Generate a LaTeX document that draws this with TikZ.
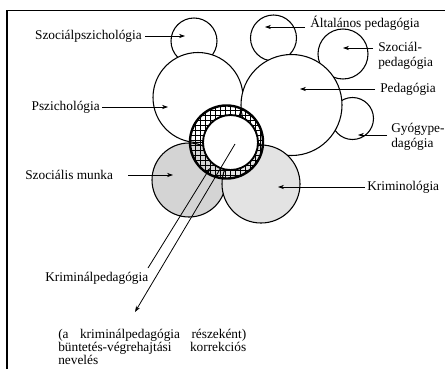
\documentclass[tikz,border=0pt]{standalone}
\usepackage{fontspec}
\setmainfont{Liberation Serif}
\usetikzlibrary{arrows.meta}

\begin{document}
\begin{tikzpicture}[x=0.75pt, y=-0.75pt, font=\fontsize{10}{11.25}\selectfont,
        disc/.style={circle, draw, line width=0.8pt, fill=white, inner sep=0pt,
            minimum size=#1*1.5pt},
        shaded/.style={disc=#1, fill=black!17},
        lightshaded/.style={disc=#1, fill=black!11},
        arr/.style={-{Stealth[length=4.5pt, width=3.2pt]}, line width=0.6pt},
        lbl/.style={inner ysep=0pt, align=left}]
    \useasboundingbox (0,0) rectangle (445,369);
    \draw[line width=1.1pt] (7,369) -- (7,10.5) -- (445,10.5);

    % small circles
    \node[disc=23] (spsy) at (194,41) {};
    \node[disc=23] (altped) at (273.5,38) {};
    \node[disc=25] (szped) at (343,54) {};
    \node[disc=21] (gyogy) at (352.5,118.5) {};

    % large circles
    \node[disc=45] (psy) at (198,97.5) {};
    \node[disc=50.5] (ped) at (291.5,105) {};
    \node[shaded=37] (szm) at (189,180) {};
    \node[lightshaded=39] (krim) at (261,184) {};

    % hatched ring
    \node[circle, inner sep=0pt, minimum size=73*0.75pt] (ring) at (226.5,142) {};
    \begin{scope}
        \clip (ring.center) circle (27.4pt);
        \draw[line width=0.55pt, step=3.75pt] (185,190) grid (270,100);
    \end{scope}
    \draw[line width=1.8pt] (ring.center) circle (27.4pt);
    \node[disc=27.5, line width=1.4pt] (core) at (230.5,142.5) {};

    % labels
    \node[lbl, inner xsep=2.25pt, anchor=east] (lspsy) at (145,36) {Szociálpszichológia};
    \node[lbl, inner xsep=3.75pt, anchor=west] (laltped) at (305,23) {Általános pedagógia};
    \node[lbl, inner xsep=3.75pt, anchor=west] (lszped) at (373,55.5) {Szociál-\\pedagógia};
    \node[lbl, inner xsep=3.75pt, anchor=west] (lped) at (375,89) {Pedagógia};
    \node[lbl, inner xsep=1.5pt, anchor=east] (lpsy) at (102,107) {Pszichológia};
    \node[lbl, inner xsep=3pt, anchor=west] (lgyogy) at (387,137) {Gyógype-\\dagógia};
    \node[lbl, inner xsep=11pt, anchor=east] (lszm) at (128,175) {Szociális munka};
    \node[lbl, inner xsep=1.5pt, anchor=west] (lkrim) at (365,187) {Kriminológia};
    \node[lbl, inner xsep=0pt, anchor=west] (lkped) at (45,278) {Kriminálpedagógia};
    \node[lbl, inner xsep=0pt, anchor=north west, font=\fontsize{10}{9.75}\selectfont]
        (lbv) at (58,329) {\hbox to 141pt{(a\hfill kriminálpedagógia\hfill részeként)}\\
        \hbox to 141pt{büntetés-végrehajtási\hfill korrekciós}\\nevelés};

    % arrow tips
    \coordinate (tspsy) at (185,36);
    \coordinate (taltped) at (265,27);
    \coordinate (tszped) at (343,48);
    \coordinate (tped) at (300,89);
    \coordinate (tpsy) at (168,107);
    \coordinate (tgyogy) at (358,135);
    \coordinate (tszm) at (173,175);
    \coordinate (tkrim) at (278,187);
    \coordinate (kpedA) at (148,268);
    \coordinate (kpedB) at (210,168);
    \coordinate (bvA) at (235,144);
    \coordinate (bvB) at (135,312);

    \draw[arr] (lspsy.east |- tspsy) -- (tspsy);
    \draw[arr] (laltped.west |- taltped) -- (taltped);
    \draw[arr] (lszped.west |- tszped) -- (tszped);
    \draw[arr] (lped.west |- tped) -- (tped);
    \draw[arr] (lpsy.east |- tpsy) -- (tpsy);
    \draw[arr] (lgyogy.west |- tgyogy) -- (tgyogy);
    \draw[arr] (lszm.east |- tszm) -- (tszm);
    \draw[arr] (lkrim.west |- tkrim) -- (tkrim);
    \draw[arr] (kpedA) -- (kpedB);
    \draw[arr] (bvA) -- (bvB);
\end{tikzpicture}
\end{document}
